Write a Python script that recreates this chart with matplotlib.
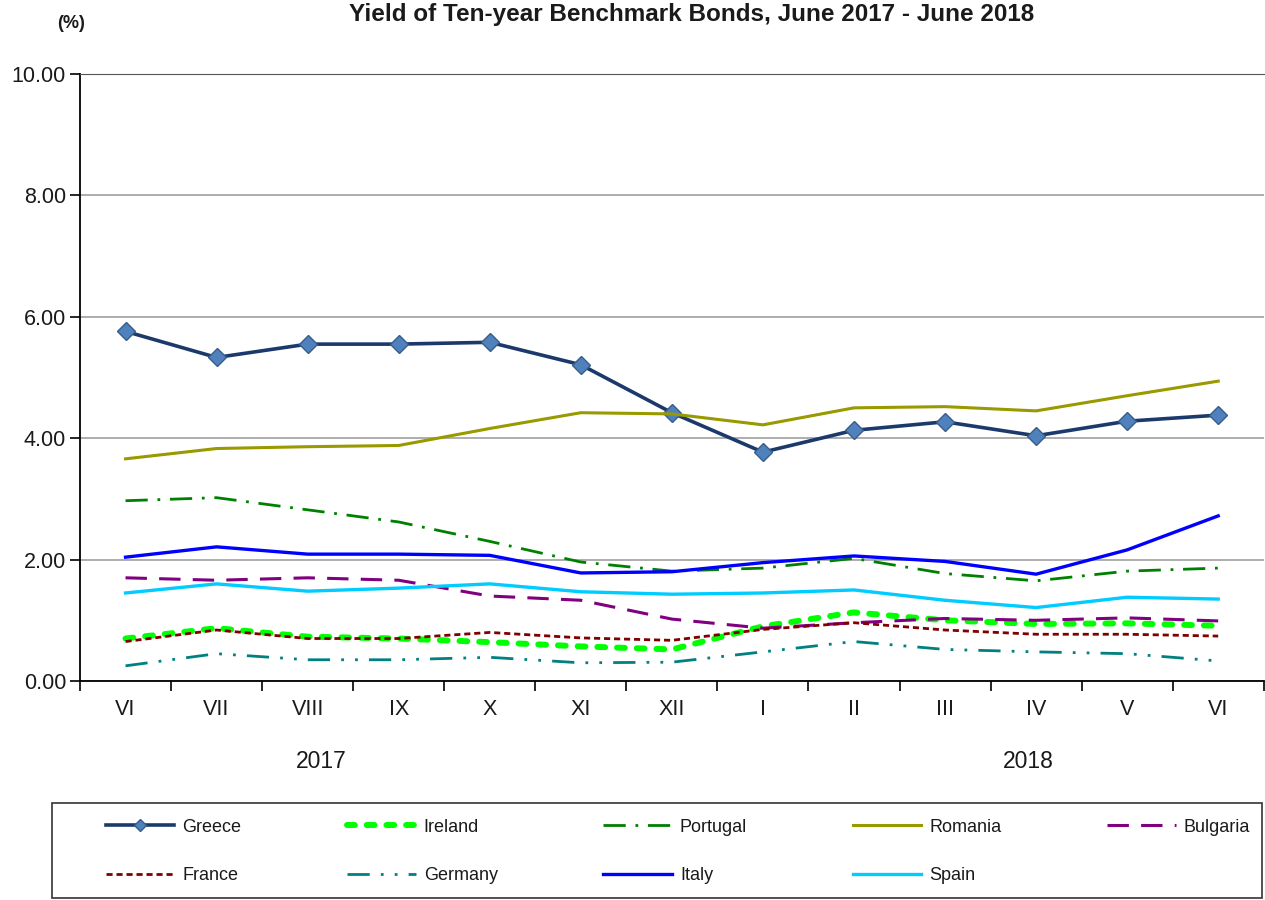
import numpy as np
import matplotlib.pyplot as plt
from matplotlib.lines import Line2D
from matplotlib.patches import Rectangle
from matplotlib.transforms import blended_transform_factory

# months Jun 2017 - Jun 2018
months = ['VI', 'VII', 'VIII', 'IX', 'X', 'XI', 'XII', 'I', 'II', 'III', 'IV', 'V', 'VI']
years = ['2017', '2018']

greece = [5.76, 5.33, 5.55, 5.55, 5.58, 5.21, 4.42, 3.77, 4.13, 4.27, 4.04, 4.28, 4.38]
ireland = [0.70, 0.87, 0.73, 0.70, 0.64, 0.57, 0.52, 0.90, 1.13, 1.00, 0.94, 0.95, 0.91]
portugal = [2.97, 3.02, 2.82, 2.62, 2.30, 1.96, 1.81, 1.86, 2.02, 1.77, 1.65, 1.81, 1.86]
romania = [3.66, 3.83, 3.86, 3.88, 4.16, 4.42, 4.40, 4.22, 4.50, 4.52, 4.45, 4.70, 4.94]
bulgaria = [1.70, 1.66, 1.70, 1.66, 1.40, 1.33, 1.02, 0.87, 0.96, 1.03, 1.00, 1.04, 0.99]
france = [0.65, 0.84, 0.70, 0.70, 0.80, 0.71, 0.67, 0.85, 0.96, 0.84, 0.77, 0.77, 0.74]
germany = [0.25, 0.45, 0.35, 0.35, 0.39, 0.30, 0.31, 0.48, 0.65, 0.52, 0.48, 0.45, 0.33]
italy = [2.04, 2.21, 2.09, 2.09, 2.07, 1.78, 1.80, 1.95, 2.06, 1.97, 1.76, 2.16, 2.72]
spain = [1.45, 1.60, 1.48, 1.53, 1.60, 1.47, 1.43, 1.45, 1.50, 1.33, 1.21, 1.38, 1.35]

plt.rcParams['font.family'] = ['Liberation Sans', 'DejaVu Sans']

W, H = 1265, 900
fig = plt.figure(figsize=(W / 100, H / 100), dpi=100)
ax = fig.add_axes([80 / W, 1 - 681 / H, 1 - 80 / W - 0.001, (681 - 74) / H])

x = np.arange(len(months))
txt = '#1a1a1a'

h = {}
h['Greece'], = ax.plot(x, greece, color='#1B3A6B', lw=2.6, marker='D', ms=9,
                       mfc='#4F81BD', mec='#385D8A', mew=1, label='Greece')
h['Ireland'], = ax.plot(x, ireland, color='#00FF00', lw=4.3, dashes=(1.3, 2.0),
                        dash_capstyle='round', label='Ireland')
h['Portugal'], = ax.plot(x, portugal, color='#008000', lw=2, dashes=(8, 3.5, 1, 3.5), label='Portugal')
h['Romania'], = ax.plot(x, romania, color='#999900', lw=2.2, label='Romania')
h['Bulgaria'], = ax.plot(x, bulgaria, color='#800080', lw=2.2, dashes=(7, 4), label='Bulgaria')
h['France'], = ax.plot(x, france, color='#800000', lw=2, dashes=(2.2, 1.4), label='France')
h['Germany'], = ax.plot(x, germany, color='#008080', lw=2, dashes=(8, 4, 1, 4, 1, 4), label='Germany')
h['Italy'], = ax.plot(x, italy, color='#0000FF', lw=2.4, label='Italy')
h['Spain'], = ax.plot(x, spain, color='#00CCFF', lw=2.4, label='Spain')

# smaller marker for the legend entry of Greece
h['Greece'] = Line2D([], [], color='#1B3A6B', lw=2.6, marker='D', ms=6,
                     mfc='#4F81BD', mec='#385D8A', mew=1)

ax.set_xlim(-0.48, 12.5)
ax.set_ylim(0, 10)
yt = np.arange(0, 10.1, 2)
ax.set_yticks(yt)
ax.set_yticklabels([f'{v:.2f}' for v in yt], fontsize=15.5, color=txt)
ax.set_xticks(np.arange(-0.5, 12.6, 1))
ax.set_xticklabels([])
ax.set_xticks(x, minor=True)
ax.set_xticklabels(months, minor=True, fontsize=15.5, color=txt)
ax.tick_params(axis='x', which='minor', length=0, pad=13)
ax.tick_params(axis='x', which='major', length=7, width=1.2, direction='out')
ax.tick_params(axis='y', length=7, width=1.2, direction='out', pad=3)

ax.yaxis.grid(True, color='#A0A0A0', lw=1.2)
ax.set_axisbelow(True)
ax.spines['right'].set_visible(False)
ax.spines['top'].set_color('#555555')
ax.spines['left'].set_linewidth(1.3)
ax.spines['bottom'].set_linewidth(1.3)

tr = blended_transform_factory(ax.transData, ax.transAxes)
ax.text(2.15, -0.133, years[0], transform=tr, ha='center', va='center', fontsize=16.5, color=txt)
ax.text(9.92, -0.133, years[1], transform=tr, ha='center', va='center', fontsize=16.5, color=txt)

fig.text(692 / W, 1 - 14 / H, 'Yield of Ten-year Benchmark Bonds, June 2017 - June 2018',
         ha='center', va='center', fontsize=17.5, fontweight='bold', color=txt)
fig.text(71 / W, 1 - 23 / H, '(%)', ha='center', va='center', fontsize=13, fontweight='bold',
         color=txt)

# legend frame drawn separately so entries can sit inset like the original
fig.patches.append(Rectangle((52 / W, 2 / H), (1262 - 52) / W, (898 - 803) / H,
                             transform=fig.transFigure, fill=False, ec='#333333', lw=1.2))

order = ['Greece', 'France', 'Ireland', 'Germany', 'Portugal', 'Italy', 'Romania', 'Spain', 'Bulgaria']
leg = fig.legend([h[k] for k in order], order, loc='lower left',
                 bbox_to_anchor=(94 / W, 4 / H, (1262 - 94) / W, 92 / H),
                 mode='expand', ncol=5, frameon=False,
                 handlelength=3.8, handletextpad=0.45, borderaxespad=0,
                 labelspacing=1.75, borderpad=0.65, prop={'size': 13})
for t in leg.get_texts():
    t.set_color(txt)

fig.savefig('out.png', dpi=100)
